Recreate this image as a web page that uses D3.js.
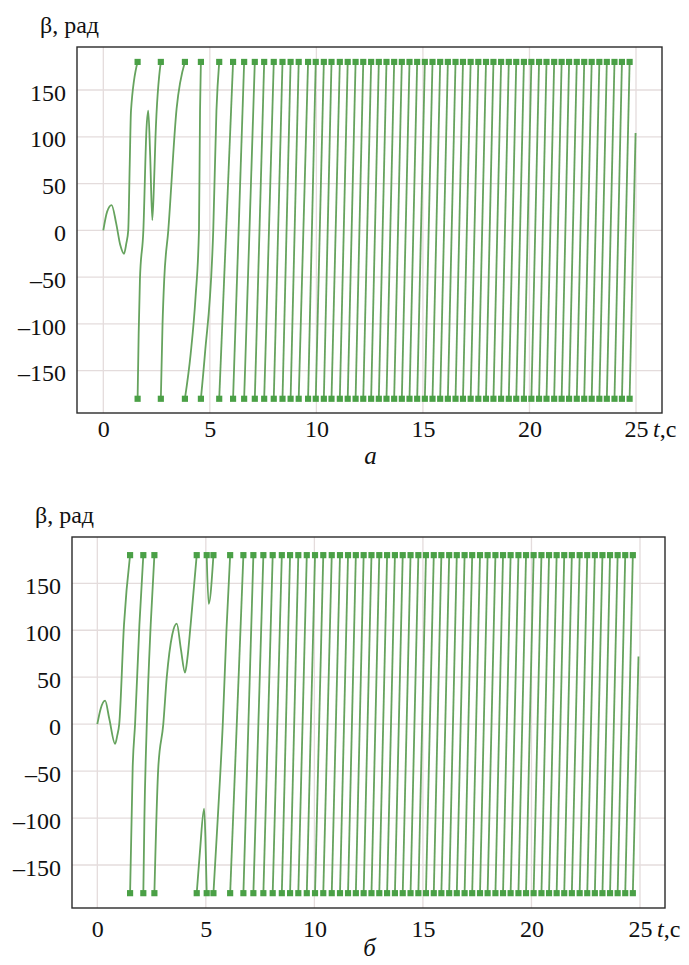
<!DOCTYPE html>
<html>
<head>
<meta charset="utf-8">
<script src="https://cdn.jsdelivr.net/npm/d3@7"></script>
<style>
body { margin: 0; background: #fff; }
svg text { font-family: 'Liberation Serif', 'Times New Roman', serif; fill: #111; }
</style>
</head>
<body>
<svg id="chart" width="689" height="965"></svg>
<script>
// tick values shared by both panels
var xTicks = [0, 5, 10, 15, 20, 25];
var yTicks = [-150, -100, -50, 0, 50, 100, 150];

// panel a: times (s) where beta wraps between +180 and -180
var wrapsA = [1.61, 2.70, 3.83, 4.58, 5.44, 6.09, 6.61, 7.11, 7.55, 8.00, 8.41, 8.79, 9.17, 9.61,
    9.97, 10.35, 10.71, 11.10, 11.47, 11.84, 12.20, 12.57, 12.93, 13.29, 13.65, 14.01, 14.37,
    14.73, 15.09, 15.45, 15.81, 16.17, 16.53, 16.88, 17.24, 17.60, 17.96, 18.31, 18.67, 19.03,
    19.38, 19.74, 20.09, 20.45, 20.80, 21.16, 21.51, 21.86, 22.22, 22.57, 22.92, 23.28, 23.63,
    23.99, 24.34, 24.70];
// panel a: first (bent) pieces of the curve, [t, beta]
var curvedA = [
    [[0, 0], [0.18, 20], [0.39, 27], [0.6, 8], [0.8, -16], [0.97, -25], [1.08, -14], [1.17, 0], [1.24, 70], [1.30, 128], [1.61, 180]],
    [[1.61, -180], [1.66, -110], [1.72, -52], [1.88, 0], [2.03, 110], [2.11, 128], [2.20, 80], [2.30, 11], [2.38, 50], [2.45, 100], [2.70, 180]],
    [[2.70, -180], [2.78, -100], [2.86, -52], [3.05, 0], [3.44, 130], [3.83, 180]],
    [[3.83, -180], [4.10, -132], [4.33, -71], [4.49, 0], [4.54, 128], [4.58, 180]],
    [[4.58, -180], [4.77, -132], [5.16, 0], [5.31, 128], [5.44, 180]]
];
var endA = [24.98, 104];

// panel b
var wrapsB = [1.51, 2.12, 2.63, 4.58, 5.04, 5.35, 6.12, 6.73, 7.19, 7.65, 8.08, 8.50, 8.88, 9.26,
    9.65, 10.03, 10.41, 10.80, 11.18, 11.55, 11.91, 12.27, 12.63, 12.99, 13.35, 13.71, 14.07,
    14.43, 14.79, 15.14, 15.50, 15.85, 16.21, 16.56, 16.92, 17.27, 17.63, 17.98, 18.34, 18.69,
    19.04, 19.40, 19.75, 20.10, 20.46, 20.81, 21.16, 21.51, 21.86, 22.22, 22.57, 22.92, 23.27,
    23.62, 23.97, 24.32, 24.67];
var curvedB = [
    [[0, 0], [0.15, 16], [0.36, 25], [0.55, 6], [0.82, -21], [0.92, -12], [1.01, 0], [1.23, 106], [1.51, 180]],
    [[1.51, -180], [1.63, -46], [1.74, 0], [1.94, 106], [2.12, 180]],
    [[2.12, -180], [2.17, -100], [2.28, 0], [2.46, 106], [2.63, 180]],
    [[2.63, -180], [2.81, -46], [3.04, 0], [3.20, 50], [3.45, 95], [3.66, 107], [3.85, 80], [4.04, 55], [4.15, 70], [4.30, 106], [4.58, 180]],
    [[4.58, -180], [4.73, -135], [4.92, -90], [4.98, -120], [5.04, -180]],
    [[5.04, 180], [5.13, 128], [5.35, 180]],
    [[5.35, -180], [5.55, -100], [5.78, 0], [5.95, 100], [6.12, 180]]
];
var endB = [24.93, 72];

var panels = [
    {wraps: wrapsA, curved: curvedA, end: endA, letter: 'а',
     frame: {l: 77, t: 47, r: 662, b: 413}, xr: [103.3, 636], yr: [370.7, 90],
     ylab: {x: 40, y: 33}, xlabY: 437, letterY: 464},
    {wraps: wrapsB, curved: curvedB, end: endB, letter: 'б',
     frame: {l: 72, t: 537, r: 665, b: 908}, xr: [97.3, 640], yr: [865, 583.3],
     ylab: {x: 35, y: 523}, xlabY: 937, letterY: 956}
];

var FONT = "'Liberation Serif', 'Times New Roman', serif";
var svg = d3.select('#chart');
panels.forEach(drawPanel);

function drawPanel(p) {
    var x = d3.scaleLinear().domain([0, 25]).range(p.xr);
    var y = d3.scaleLinear().domain([-150, 150]).range(p.yr);
    var f = p.frame;
    var g = svg.append('g');

    // grid
    g.selectAll('.vg').data(xTicks).enter().append('line')
        .attr('x1', x).attr('x2', x).attr('y1', f.t).attr('y2', f.b)
        .attr('stroke', '#e4dcdc').attr('stroke-width', 1.3);
    g.selectAll('.hg').data(yTicks).enter().append('line')
        .attr('y1', y).attr('y2', y).attr('x1', f.l).attr('x2', f.r)
        .attr('stroke', '#e4dcdc').attr('stroke-width', 1.3);

    // build the trace pieces
    var pieces = p.curved.slice();
    for (var k = p.curved.length; k < p.wraps.length; k++) {
        pieces.push([[p.wraps[k - 1], -180], [p.wraps[k], 180]]);
    }
    pieces.push([[p.wraps[p.wraps.length - 1], -180], p.end]);

    var line = d3.line()
        .x(function(d) { return x(d[0]); })
        .y(function(d) { return y(d[1]); })
        .curve(d3.curveMonotoneX);

    g.selectAll('.trace').data(pieces).enter().append('path')
        .attr('d', line)
        .attr('fill', 'none')
        .attr('stroke', '#66a35e')
        .attr('stroke-width', 1.8);

    // markers at every wrap
    var marks = [];
    p.wraps.forEach(function(t) { marks.push([t, 180]); marks.push([t, -180]); });
    g.selectAll('.mk').data(marks).enter().append('path')
        .attr('d', d3.symbol().type(d3.symbolSquare).size(38))
        .attr('transform', function(d) { return 'translate(' + x(d[0]) + ',' + y(d[1]) + ')'; })
        .attr('fill', '#4aa046');

    // frame
    g.append('rect')
        .attr('x', f.l).attr('y', f.t)
        .attr('width', f.r - f.l).attr('height', f.b - f.t)
        .attr('fill', 'none').attr('stroke', '#2a2a2a').attr('stroke-width', 1.4);

    // axes
    var yAxis = g.append('g')
        .attr('transform', 'translate(' + f.l + ',0)')
        .call(d3.axisLeft(y).tickValues(yTicks).tickSize(0).tickPadding(11)
            .tickFormat(function(d) { return d < 0 ? '\u2013' + Math.abs(d) : d; }));
    yAxis.attr('font-family', null).attr('font-size', null);
    yAxis.select('.domain').remove();
    yAxis.selectAll('text').style('font-family', FONT).style('font-size', '24px')
        .attr('dy', '0.42em').attr('fill', '#111');

    var xAxis = g.append('g')
        .attr('transform', 'translate(0,' + p.xlabY + ')')
        .call(d3.axisBottom(x).tickValues(xTicks).tickSize(0).tickPadding(0));
    xAxis.attr('font-family', null).attr('font-size', null);
    xAxis.select('.domain').remove();
    xAxis.selectAll('text').style('font-family', FONT).style('font-size', '24px')
        .attr('y', 0).attr('dy', 0).attr('fill', '#111');

    // axis names
    g.append('text')
        .attr('x', p.ylab.x).attr('y', p.ylab.y)
        .style('font-family', FONT).style('font-size', '24px')
        .text('β, рад');

    var tl = g.append('text')
        .attr('x', x(25) + 17).attr('y', p.xlabY)
        .style('font-family', FONT).style('font-size', '24px');
    tl.append('tspan').style('font-style', 'italic').text('t');
    tl.append('tspan').text(',с');

    g.append('text')
        .attr('x', (f.l + f.r) / 2 + 1).attr('y', p.letterY)
        .attr('text-anchor', 'middle')
        .style('font-family', FONT).style('font-size', '25px').style('font-style', 'italic')
        .text(p.letter);
}
</script>
</body>
</html>
